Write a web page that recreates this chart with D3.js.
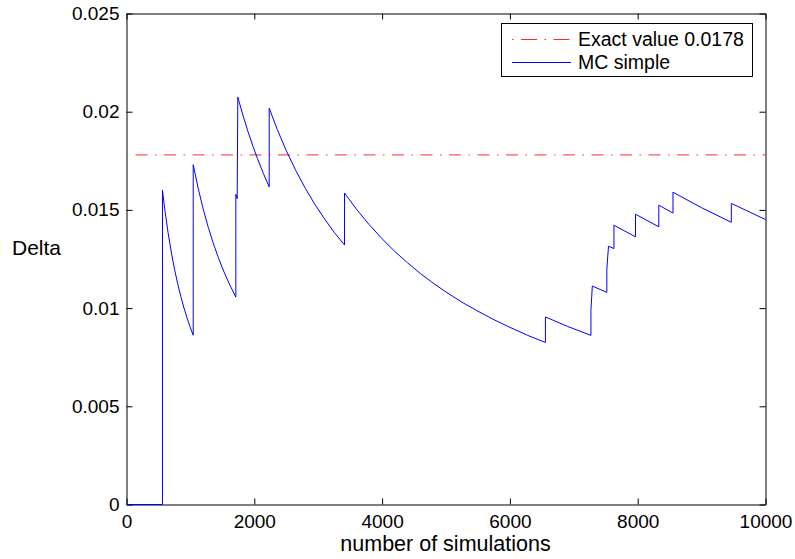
<!DOCTYPE html>
<html>
<head>
<meta charset="utf-8">
<script src="https://cdn.jsdelivr.net/npm/d3@7"></script>
<style>
  body { margin: 0; background: #fff; }
  svg { display: block; font-family: "Liberation Sans", Arial, Helvetica, sans-serif; }
</style>
</head>
<body>
<div class="canvas"></div>
<script>
// data
const nSims = [
  0, 563, 563, 600, 650, 700, 750, 800, 850, 900, 950, 1000, 1044,
  1044, 1120, 1200, 1280, 1350, 1430, 1500, 1600, 1711,
  1711, 1732, 1742, 1820, 1900, 1980, 2050, 2140, 2233,
  2233, 2360, 2500, 2650, 2800, 2950, 3100, 3250, 3412,
  3412, 3600, 3800, 4000, 4200, 4400, 4600, 4800, 5000, 5250, 5500, 5750, 6000, 6280, 6556,
  6556, 6900, 7268,
  7268, 7290, 7517,
  7517, 7543, 7628,
  7628, 7966,
  7966, 8330,
  8330, 8552,
  8552, 9000, 9465,
  9465, 10000
];
const deltaMC = [
  0, 0, 0.0160, 0.01501, 0.01385, 0.01286, 0.0120, 0.01126, 0.01059, 0.01000, 0.00947, 0.00900, 0.00862,
  0.0173, 0.01612, 0.01505, 0.01411, 0.01338, 0.01263, 0.01204, 0.01129, 0.01056,
  0.01579, 0.01557, 0.02074, 0.01984, 0.0190, 0.01823, 0.01761, 0.01687, 0.01617,
  0.02018, 0.01909, 0.01802, 0.01700, 0.01609, 0.01527, 0.01454, 0.01386, 0.01321,
  0.01586, 0.01503, 0.01424, 0.01353, 0.01288, 0.01230, 0.01176, 0.01127, 0.01082, 0.01030, 0.00984, 0.00941, 0.00902, 0.00861, 0.00825,
  0.00955, 0.00907, 0.00861,
  0.00989, 0.01112, 0.01080,
  0.01198, 0.01315, 0.01303,
  0.01422, 0.01363,
  0.01478, 0.01414,
  0.01524, 0.01484,
  0.0159, 0.01511, 0.01437,
  0.01533, 0.01451
];
const exactValue = 0.0178;

const xTicks = [0, 2000, 4000, 6000, 8000, 10000];
const yTicks = [0, 0.005, 0.01, 0.015, 0.02, 0.025];
const yTickLabels = ['0', '0.005', '0.01', '0.015', '0.02', '0.025'];
const legendLabels = ['Exact value 0.0178', 'MC simple'];
const legendColors = ['#ff2a2a', '#0000ff'];
const legendDash = ['1.5,7.5,16,7.5', null];

const dimension = { width: 795, height: 559 };
const plot = { left: 126, right: 765, top: 13, bottom: 504 };

const svg = d3
  .select('.canvas')
  .append('svg')
  .attr('width', dimension.width)
  .attr('height', dimension.height);

svg.append('rect')
  .attr('width', dimension.width)
  .attr('height', dimension.height)
  .attr('fill', '#fff');

const x = d3.scaleLinear().domain([0, 10000]).range([plot.left, plot.right]);
const y = d3.scaleLinear().domain([0, 0.025]).range([plot.bottom, plot.top]);

const graph = svg.append('g').attr('transform', 'translate(0.5, 0.5)');

// clip
svg.append('clipPath').attr('id', 'clip')
  .append('rect')
  .attr('x', plot.left - 1).attr('y', plot.top - 1)
  .attr('width', plot.right - plot.left + 2)
  .attr('height', plot.bottom - plot.top + 2);

// axes (ticks pointing in, mirrored on top/right)
const styleAxis = g => {
  g.select('.domain').attr('stroke', '#000').attr('stroke-width', 1);
  g.selectAll('.tick line').attr('stroke', '#000');
  g.selectAll('.tick text').attr('fill', '#000').attr('font-size', 19);
};

graph.append('g')
  .attr('transform', `translate(0, ${plot.bottom})`)
  .call(d3.axisBottom(x).tickValues(xTicks).tickSizeInner(-6).tickSizeOuter(0)
    .tickPadding(10).tickFormat(d3.format('d')))
  .call(styleAxis);

graph.append('g')
  .attr('transform', `translate(0, ${plot.top})`)
  .call(d3.axisTop(x).tickValues(xTicks).tickSizeInner(-6).tickSizeOuter(0).tickFormat(''))
  .call(styleAxis);

graph.append('g')
  .attr('transform', `translate(${plot.left}, 0)`)
  .call(d3.axisLeft(y).tickValues(yTicks).tickSizeInner(-6).tickSizeOuter(0)
    .tickPadding(7).tickFormat((d, i) => yTickLabels[i]))
  .call(styleAxis);

graph.append('g')
  .attr('transform', `translate(${plot.right}, 0)`)
  .call(d3.axisRight(y).tickValues(yTicks).tickSizeInner(-6).tickSizeOuter(0).tickFormat(''))
  .call(styleAxis);

// exact value line
const lines = svg.append('g').attr('clip-path', 'url(#clip)')
  .append('g').attr('transform', 'translate(0.5, 0.5)');

lines.append('line')
  .attr('x1', x(0)).attr('x2', x(10000))
  .attr('y1', y(exactValue)).attr('y2', y(exactValue))
  .style('stroke', legendColors[0])
  .style('stroke-width', 1)
  .style('stroke-dasharray', '1.5,7.5,12,7.5');

// MC estimate
const mcLine = d3.line()
  .x(d => x(d[0]))
  .y(d => y(d[1]));

lines.append('path')
  .datum(nSims.map((n, i) => [n, deltaMC[i]]))
  .attr('d', mcLine)
  .style('fill', 'none')
  .style('stroke', legendColors[1])
  .style('stroke-width', 1);

// axis labels
svg.append('text')
  .attr('x', (plot.left + plot.right) / 2)
  .attr('y', 551)
  .attr('text-anchor', 'middle')
  .attr('font-size', 21.5)
  .text('number of simulations');

svg.append('text')
  .attr('x', 12)
  .attr('y', 255)
  .attr('font-size', 21)
  .text('Delta');

// legend
const legendGroup = svg.append('g');

legendGroup.append('rect')
  .attr('x', 501.5).attr('y', 23.5)
  .attr('width', 251).attr('height', 53)
  .style('fill', '#fff')
  .style('stroke', '#000');

const legendItems = legendGroup.selectAll('g.leg')
  .data(legendLabels)
  .enter()
  .append('g')
  .attr('class', 'leg')
  .attr('transform', (d, i) => `translate(0, ${39.5 + i * 23})`);

legendItems.append('path')
  .attr('d', 'M512,0H571')
  .style('fill', 'none')
  .style('stroke', (d, i) => legendColors[i])
  .style('stroke-width', 1)
  .style('stroke-dasharray', (d, i) => legendDash[i]);

legendItems.append('text')
  .attr('x', 578)
  .attr('y', 6.5)
  .attr('font-size', 19.5)
  .style('fill', '#000')
  .text(d => d);
</script>
</body>
</html>
